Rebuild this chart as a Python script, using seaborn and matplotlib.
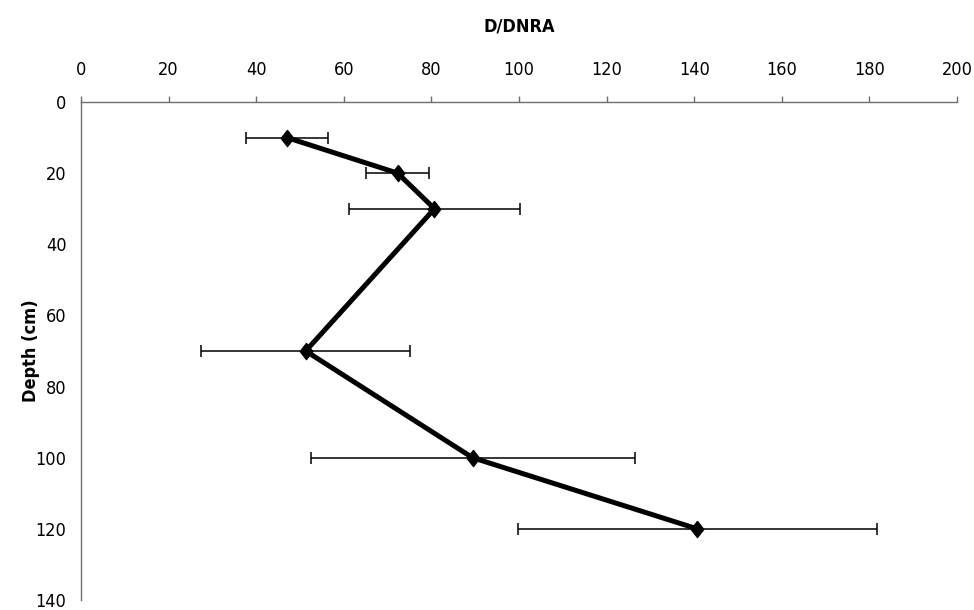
import matplotlib
matplotlib.use("Agg")
import matplotlib.pyplot as plt
import seaborn as sns
import pandas as pd

# Depth profile of the D/DNRA ratio (mean ± error)
depth_cm = [10, 20, 30, 70, 100, 120]
ratio_mean = [47.0, 72.3, 80.7, 51.3, 89.4, 140.7]
ratio_err = [9.3, 7.2, 19.6, 23.9, 37.0, 41.0]
x_ticks = [0, 20, 40, 60, 80, 100, 120, 140, 160, 180, 200]
y_ticks = [0, 20, 40, 60, 80, 100, 120, 140]

df = pd.DataFrame({"depth": depth_cm, "ratio": ratio_mean, "err": ratio_err})

sns.set_style("white")
plt.rcParams["font.family"] = ["DejaVu Sans"]
plt.rcParams["font.stretch"] = "condensed"
plt.rcParams["text.color"] = "black"
plt.rcParams["axes.labelcolor"] = "black"

# slightly tall diamond marker
diamond = [(0, 1), (0.78, 0), (0, -1), (-0.78, 0), (0, 1)]

fig = plt.figure(figsize=(9.74, 6.10), dpi=100)
ax = fig.add_axes([81 / 974, 10 / 610, 876 / 974, 498 / 610])

ax.errorbar(df["ratio"], df["depth"], xerr=df["err"], fmt="none",
            ecolor="black", elinewidth=1.1, capsize=4, capthick=1.1, zorder=2)
sns.lineplot(data=df, x="ratio", y="depth", sort=False, estimator=None,
             color="black", linewidth=3.6, marker=diamond, markersize=12,
             markeredgecolor="black", ax=ax, zorder=3)

ax.set_xlim(0, 200)
ax.set_ylim(140, 0)
ax.set_xticks(x_ticks)
ax.set_yticks(y_ticks)
ax.xaxis.tick_top()
ax.xaxis.set_label_position("top")

for side in ["right", "bottom"]:
    ax.spines[side].set_visible(False)
for side in ["top", "left"]:
    ax.spines[side].set_color("#6e6e6e")
    ax.spines[side].set_linewidth(1.0)

ax.tick_params(axis="both", direction="out", length=4.5, width=1.0,
               color="#6e6e6e", labelsize=13, labelcolor="black")
ax.tick_params(axis="x", pad=12)
ax.tick_params(axis="y", pad=6)

ax.set_xlabel("D/DNRA", fontsize=13, fontweight="bold", labelpad=21,
              color="black")
ax.set_ylabel("Depth (cm)", fontsize=13, fontweight="bold", color="black")
ax.yaxis.set_label_coords(-0.047, 0.5)
ax.grid(False)

fig.savefig("out.png", dpi=100, facecolor="white")
